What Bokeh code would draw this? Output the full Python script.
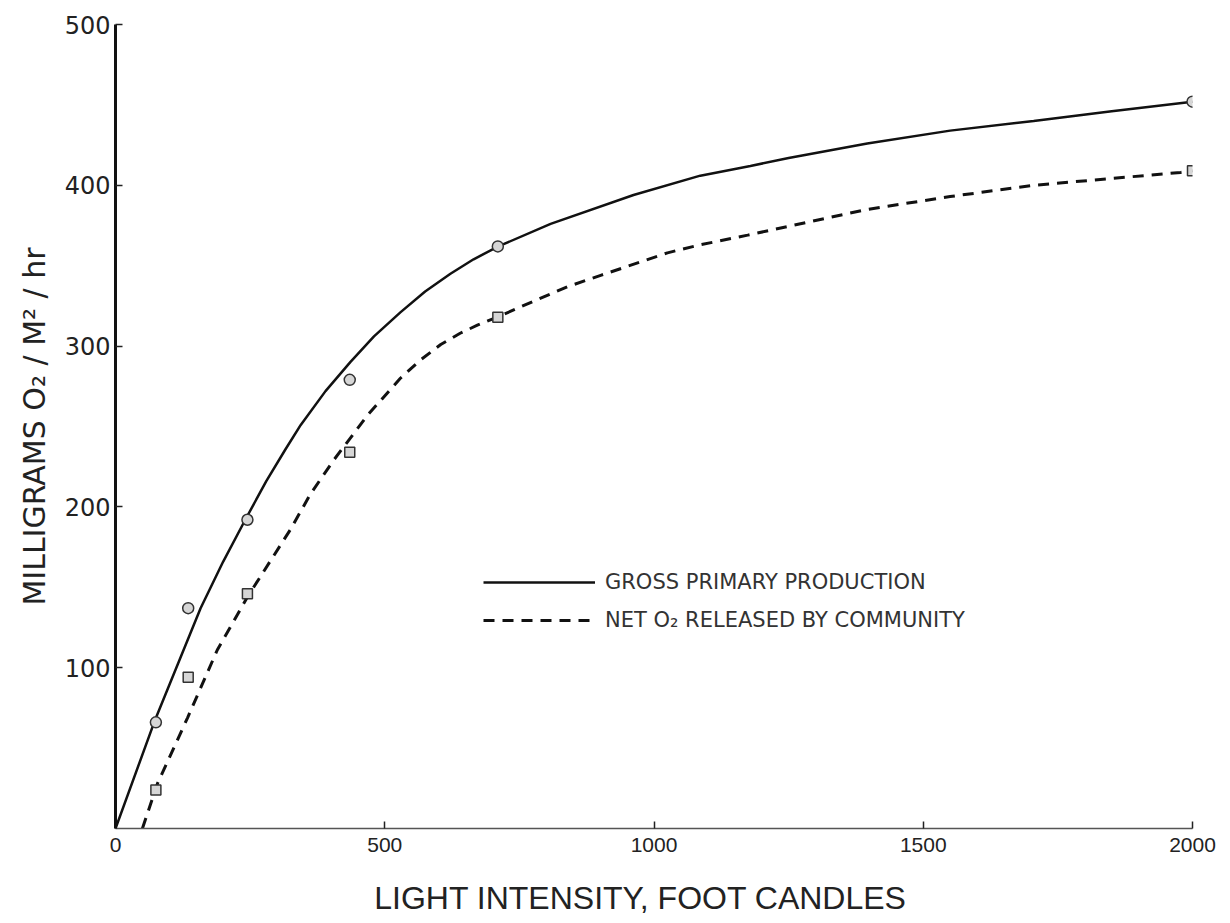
from bokeh.plotting import figure
from bokeh.models import Range1d, FixedTicker, Legend, LegendItem
from bokeh.embed import file_html
from bokeh.resources import INLINE

# Measured points
light = [75, 135, 245, 435, 710, 2000]
gross_pts = [66, 137, 192, 279, 362, 452]
net_pts = [24, 94, 146, 234, 318, 409]

# Hand-drawn curves
gross_curve_x = [0, 74, 158, 200, 241, 280, 316, 344, 390, 436, 480, 529, 575, 622, 665, 711, 808,
                 962, 1086, 1179, 1250, 1396, 1550, 1705, 1850, 2000]
gross_curve_y = [0, 68, 137, 166, 192, 216, 236, 251, 272, 290, 306, 321, 334, 345, 354, 362, 376,
                 394, 406, 412, 417, 426, 434, 440, 446, 452]
net_curve_x = [50, 78, 134, 189, 245, 325, 362, 405, 468, 529, 565, 604, 640, 672, 709, 777, 840,
               901, 1025, 1086, 1174, 1396, 1550, 1705, 1978, 2000]
net_curve_y = [0, 28, 69, 111, 144, 186, 208, 229, 257, 280, 291, 301, 308, 313, 318, 328, 337,
               344, 358, 363, 369, 385, 393, 400, 408, 409]

x_ticks = [0, 500, 1000, 1500, 2000]
y_ticks = [100, 200, 300, 400, 500]

FONT = "Liberation Sans"
WIDE = "DejaVu Sans"

p = figure(width=1230, height=923, output_backend="svg", toolbar_location=None,
           x_range=Range1d(0, 2000), y_range=Range1d(0, 500),
           min_border_left=115, min_border_right=38, min_border_top=24, min_border_bottom=95)
p.outline_line_color = None
p.grid.visible = False
p.background_fill_color = "white"
p.border_fill_color = "white"

gl = p.line(gross_curve_x, gross_curve_y, line_color="#111111", line_width=2.5)
nl = p.line(net_curve_x, net_curve_y, line_color="#111111", line_width=3, line_dash="11 8")
p.scatter(light, gross_pts, marker="circle", size=11, fill_color="#d6d6d6",
          line_color="#333333", line_width=1.5)
p.scatter(light, net_pts, marker="square", size=10, fill_color="#d6d6d6",
          line_color="#333333", line_width=1.5)

# Axes
p.xaxis.ticker = FixedTicker(ticks=x_ticks)
p.yaxis.ticker = FixedTicker(ticks=y_ticks)
for ax in (p.xaxis, p.yaxis):
    ax.major_tick_in = 7
    ax.major_tick_out = 0
    ax.minor_tick_line_color = None
    ax.major_tick_line_color = "#222222"
    ax.major_tick_line_width = 1.5
    ax.major_label_text_color = "#222222"
    ax.axis_label_text_font_style = "normal"
    ax.axis_label_text_color = "#222222"

p.yaxis.axis_line_width = 3
p.yaxis.axis_line_color = "#111111"
p.xaxis.axis_line_width = 1.5
p.xaxis.axis_line_color = "#555555"

p.xaxis.major_label_text_font = FONT
p.xaxis.major_label_text_font_size = "21px"
p.yaxis.major_label_text_font = WIDE
p.yaxis.major_label_text_font_size = "24px"
p.xaxis.major_label_standoff = 9
p.yaxis.major_label_standoff = 5

p.xaxis.axis_label = "LIGHT  INTENSITY,  FOOT  CANDLES"
p.xaxis.axis_label_text_font = FONT
p.xaxis.axis_label_text_font_size = "32px"
p.xaxis.axis_label_standoff = 25
p.yaxis.axis_label = "MILLIGRAMS O\u2082 / M\u00b2 / hr"
p.yaxis.axis_label_text_font = WIDE
p.yaxis.axis_label_text_font_size = "30px"
p.yaxis.axis_label_standoff = 10

legend = Legend(items=[LegendItem(label="GROSS PRIMARY PRODUCTION", renderers=[gl]),
                       LegendItem(label="NET O\u2082 RELEASED BY COMMUNITY", renderers=[nl])],
                location=(368, 196), orientation="vertical")
legend.glyph_width = 112
legend.glyph_height = 20
legend.label_standoff = 10
legend.spacing = 14
legend.padding = 0
legend.margin = 0
legend.border_line_color = None
legend.background_fill_alpha = 0
legend.label_text_font = WIDE
legend.label_text_font_size = "21px"
legend.label_text_color = "#333333"
p.add_layout(legend, "center")

open("out.html", "w").write(file_html(p, INLINE))
